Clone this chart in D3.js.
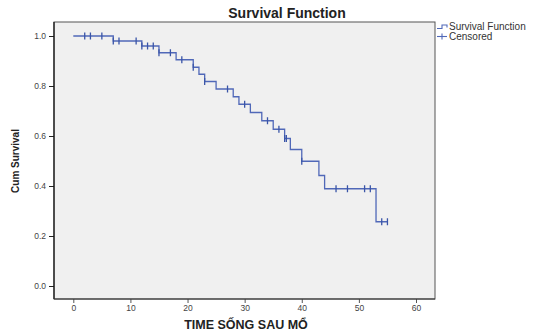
<!DOCTYPE html>
<html>
<head>
<meta charset="utf-8">
<script src="https://cdn.jsdelivr.net/npm/d3@7"></script>
<style>
  html, body { margin: 0; padding: 0; background: #ffffff; }
  svg { display: block; }
  text { font-family: "Liberation Sans", Arial, sans-serif; }
</style>
</head>
<body>
<svg id="chart" width="536" height="332"></svg>
<script>
// ---- data ----
const stepTimes    = [0, 7, 12, 15, 18, 21, 22, 23, 25, 28, 29, 31, 33, 35, 37, 38, 40, 43, 44, 53, 55];
const stepSurvival = [1.0, 0.98, 0.96, 0.933, 0.905, 0.875, 0.847, 0.818, 0.788, 0.757, 0.727, 0.694, 0.661, 0.627, 0.590, 0.546, 0.499, 0.442, 0.389, 0.257, 0.257];
const censorTimes    = [2, 3, 5, 7, 8, 11, 12, 13, 14, 15, 17, 19, 21, 23, 27, 30, 34, 36, 37, 37.3, 40, 46, 48, 51, 52, 54, 55];
const censorSurvival = [1.0, 1.0, 1.0, 0.98, 0.98, 0.98, 0.96, 0.96, 0.96, 0.933, 0.933, 0.905, 0.875, 0.818, 0.788, 0.727, 0.661, 0.627, 0.590, 0.590, 0.499, 0.389, 0.389, 0.389, 0.389, 0.257, 0.257];
const xTicks = [0, 10, 20, 30, 40, 50, 60];
const yTicks = [0.0, 0.2, 0.4, 0.6, 0.8, 1.0];
const titleText = "Survival Function";
const xTitle = "TIME SỐNG SAU MỔ";
const yTitle = "Cum Survival";
const legendLabels = ["Survival Function", "Censored"];

// ---- layout ----
const svg = d3.select("#chart");
const frame = { left: 54, right: 435, top: 22, bottom: 299 };
const lineColor = "#5068b8";

const x = d3.scaleLinear().domain([0, 60]).range([73.3, 416]);
const y = d3.scaleLinear().domain([0, 1]).range([286, 36]);

// plot background / frame
svg.append("rect")
  .attr("x", frame.left).attr("y", frame.top)
  .attr("width", frame.right - frame.left).attr("height", frame.bottom - frame.top)
  .attr("fill", "#f0f0f0").attr("stroke", "#555").attr("stroke-width", 1);

// y axis
const yAxis = d3.axisLeft(y).tickValues(yTicks).tickFormat(d3.format(".1f")).tickSize(5).tickPadding(3);
const gy = svg.append("g").attr("transform", `translate(${frame.left},0)`).call(yAxis);
gy.select(".domain").remove();
gy.selectAll("line").attr("stroke", "#222");
gy.selectAll("text").attr("font-size", 8.5).attr("fill", "#444").attr("font-family", "'Liberation Sans', Arial, sans-serif");
svg.append("line").attr("x1", frame.left).attr("x2", frame.left).attr("y1", frame.top).attr("y2", frame.bottom)
  .attr("stroke", "#111").attr("stroke-width", 1.2);

// x axis
const xAxis = d3.axisBottom(x).tickValues(xTicks).tickFormat(d3.format("d")).tickSize(4).tickPadding(2);
const gx = svg.append("g").attr("transform", `translate(0,${frame.bottom})`).call(xAxis);
gx.select(".domain").remove();
gx.selectAll("line").attr("stroke", "#555");
gx.selectAll("text").attr("font-size", 8.5).attr("fill", "#444").attr("font-family", "'Liberation Sans', Arial, sans-serif");
svg.append("line").attr("x1", frame.left).attr("x2", frame.right).attr("y1", frame.bottom).attr("y2", frame.bottom)
  .attr("stroke", "#333").attr("stroke-width", 1.2);

// survival step curve
const pts = stepTimes.map((t, i) => [t, stepSurvival[i]]);
const line = d3.line().x(d => x(d[0])).y(d => y(d[1])).curve(d3.curveStepAfter);
svg.append("path").attr("d", line(pts)).attr("fill", "none")
  .attr("stroke", lineColor).attr("stroke-width", 1.3);

// censored marks
const cens = censorTimes.map((t, i) => [t, censorSurvival[i]]);
svg.append("g").selectAll("line").data(cens).join("line")
  .attr("x1", d => x(d[0])).attr("x2", d => x(d[0]))
  .attr("y1", d => y(d[1]) - 3.5).attr("y2", d => y(d[1]) + 3.5)
  .attr("stroke", "#3a55a8").attr("stroke-width", 1.3);

// title
svg.append("text").attr("x", 287).attr("y", 18).attr("text-anchor", "middle")
  .attr("font-size", 14).attr("font-weight", "bold").attr("fill", "#222").text(titleText);

// axis titles
svg.append("text").attr("x", 246).attr("y", 329).attr("text-anchor", "middle")
  .attr("font-size", 12.5).attr("font-weight", "bold").attr("fill", "#222").text(xTitle);
svg.append("text").attr("transform", "translate(19,161) rotate(-90)").attr("text-anchor", "middle")
  .attr("font-size", 10).attr("font-weight", "bold").attr("fill", "#222").text(yTitle);

// legend
const lg = svg.append("g");
lg.append("path").attr("d", "M437,28.5 H442 V25 H447 V27.5").attr("fill", "none").attr("stroke", lineColor).attr("stroke-width", 1.1);
lg.append("line").attr("x1", 437).attr("x2", 447).attr("y1", 36.5).attr("y2", 36.5).attr("stroke", lineColor).attr("stroke-width", 1.1);
lg.append("line").attr("x1", 442).attr("x2", 442).attr("y1", 33.5).attr("y2", 39.5).attr("stroke", lineColor).attr("stroke-width", 1.1);
lg.append("text").attr("x", 449).attr("y", 30).attr("font-size", 10).attr("fill", "#333").text(legendLabels[0]);
lg.append("text").attr("x", 449).attr("y", 39.5).attr("font-size", 10).attr("fill", "#333").text(legendLabels[1]);
</script>
</body>
</html>
